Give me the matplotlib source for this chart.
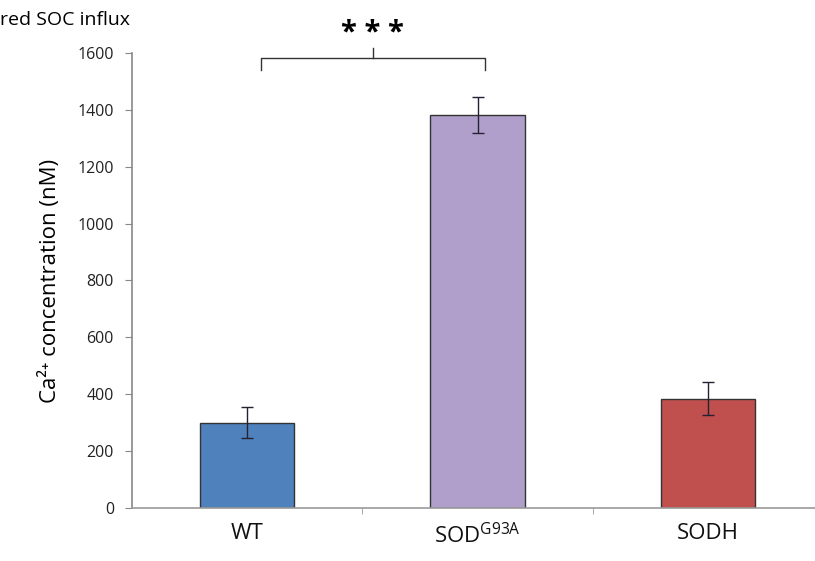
import numpy as np
import matplotlib.pyplot as plt

plt.rcParams['font.family'] = ['Open Sans', 'DejaVu Sans']
plt.rcParams['mathtext.fontset'] = 'custom'
plt.rcParams['mathtext.rm'] = 'Open Sans'

# data
groups = ["WT", "SOD$^{\\mathregular{G93A}}$", "SODH"]
means = [300, 1382, 385]
errors = [55, 65, 58]
colors = ["#4F81BD", "#B09FCA", "#C0504D"]
yticks = [0, 200, 400, 600, 800, 1000, 1200, 1400, 1600]

fig = plt.figure(figsize=(8.15, 5.61), dpi=100)
ax = fig.add_axes([0.162, 0.0945, 0.848, 0.811])

x = np.arange(len(groups))
ax.bar(x, means, width=0.41, color=colors, edgecolor="#333333", linewidth=1.0, zorder=2)
ax.errorbar(x, means, yerr=errors, fmt="none", ecolor="#222233", elinewidth=1.0,
            capsize=4, capthick=1.0, zorder=3)

ax.set_xlim(-0.5, 2.5)
ax.set_ylim(0, 1600)
ax.set_yticks(yticks)
ax.set_yticklabels([str(v) for v in yticks], fontsize=11.5, color="#222222")
ax.set_xticks(x)
ax.set_xticklabels(groups, fontsize=16, color="#111111")
ax.tick_params(axis="x", length=0, pad=11)
ax.tick_params(axis="y", length=5, color="#888888", pad=8)
# small marks between categories
ax.set_xticks([0.5, 1.5], minor=True)
ax.tick_params(axis="x", which="minor", length=4, color="#999999")

for side in ["top", "right"]:
    ax.spines[side].set_visible(False)
ax.spines["left"].set_color("#888888")
ax.spines["bottom"].set_color("#999999")
ax.spines["left"].set_linewidth(1.2)
ax.spines["bottom"].set_linewidth(1.2)

ax.set_ylabel("Ca²⁺ concentration (nM)", fontsize=16, labelpad=12)

# significance bracket
bx0, bx1, by = 0.06, 1.03, 1582
ax.plot([bx0, bx0, bx1, bx1], [1540, by, by, 1540], color="#333333", lw=1.0, clip_on=False)
ax.plot([0.545, 0.545], [by, 1617], color="#333333", lw=1.0, clip_on=False)
ax.text(0.545, 1642, "* * *", ha="center", va="baseline", fontsize=21,
        fontweight="bold", clip_on=False)

fig.text(0.0, 0.965, "red SOC influx", fontsize=14, ha="left", va="center")

fig.savefig("out.png", dpi=100)
